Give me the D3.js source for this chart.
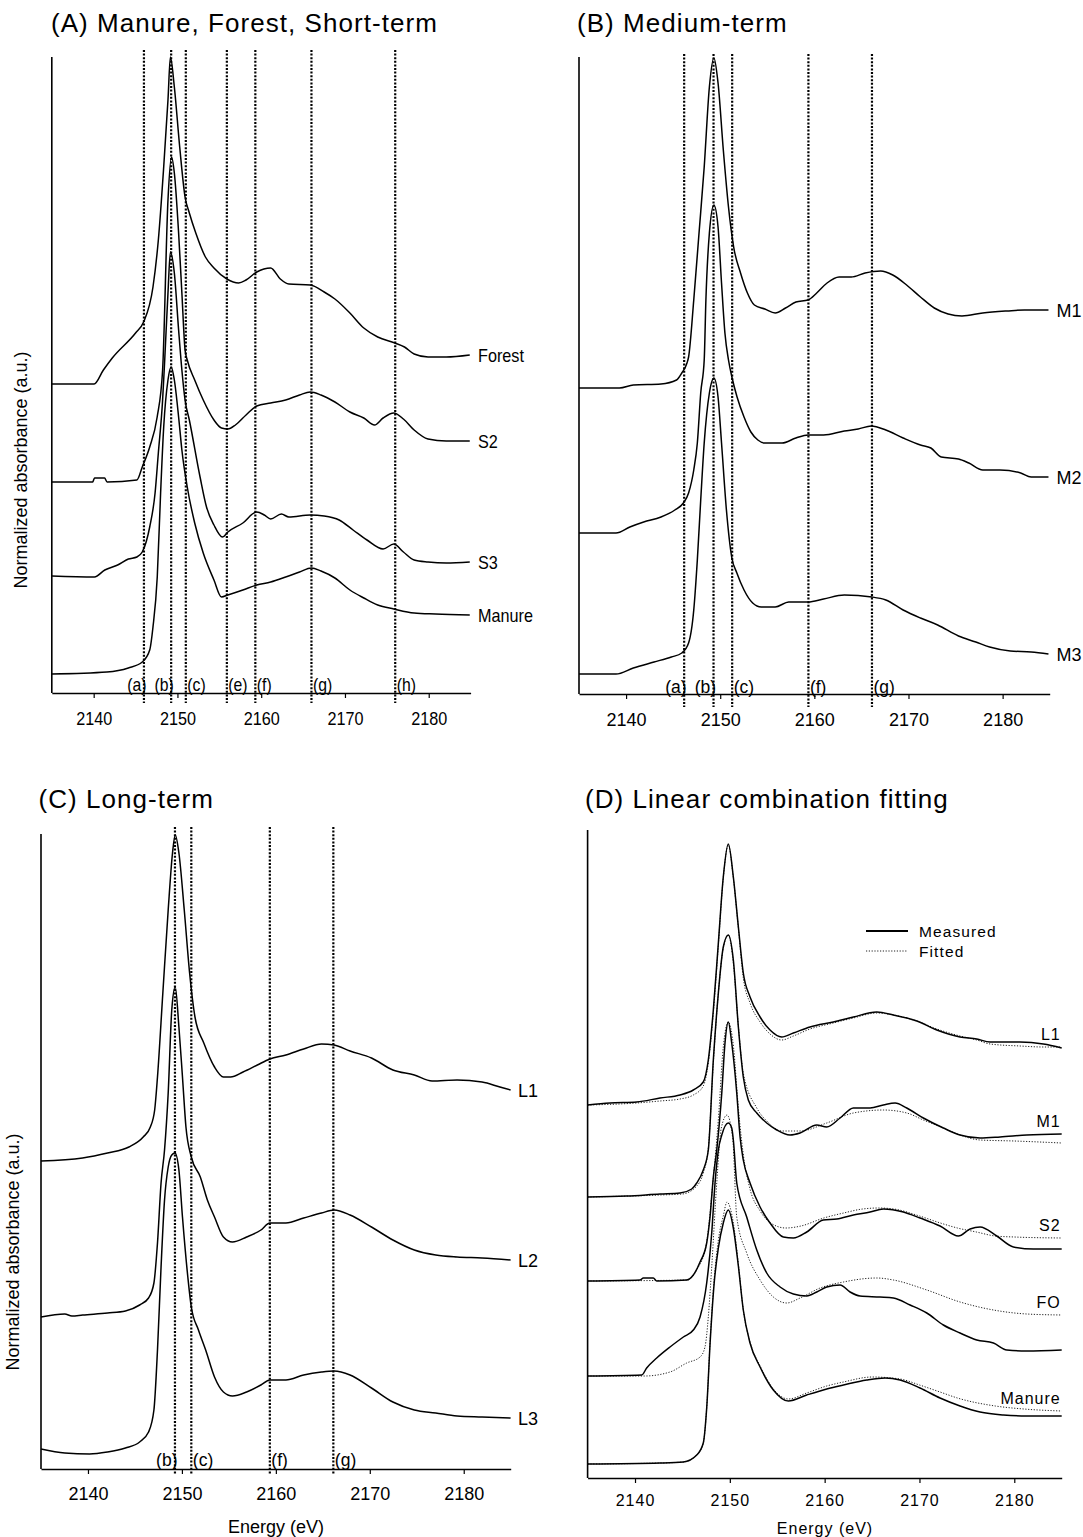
<!DOCTYPE html>
<html><head><meta charset="utf-8">
<script src="https://cdn.jsdelivr.net/npm/d3@7"></script>
<style>
body{margin:0;background:#fff}
svg{display:block}
text{font-family:"Liberation Sans",Arial,Helvetica,sans-serif;fill:#000}
</style>
</head><body>
<svg id="chart" width="1083" height="1537"></svg>
<script>
// ---------------- DATA (energy eV, normalized absorbance a.u. incl. stacking offset) ----------------
const tickValues = [2140, 2150, 2160, 2170, 2180];
const energyDomain = [2135, 2185];

// Panel A
const forestA = [[2135.0,3.09],[2140.05,3.09],[2141.16,3.23],[2142.22,3.35],[2145.0,3.60],[2145.96,3.71],[2147.08,4.06],[2147.72,4.53],[2148.36,5.26],[2148.87,5.93],[2149.16,6.36],[2149.63,6.06],[2150.27,5.46],[2150.91,4.96],[2151.42,4.80],[2152.19,4.60],[2153.34,4.36],[2154.36,4.25],[2155.9,4.14],[2157.3,4.10],[2158.19,4.13],[2159.47,4.21],[2161.13,4.25],[2162.28,4.14],[2163.3,4.09],[2165.86,4.08],[2167.52,4.01],[2168.8,3.94],[2170.59,3.80],[2172.25,3.65],[2173.91,3.56],[2175.96,3.50],[2177.11,3.46],[2178.26,3.39],[2179.92,3.36],[2182.09,3.36],[2184.9,3.38]];
const s2A = [[2135.0,2.11],[2139.88,2.11],[2140.1,2.15],[2141.3,2.15],[2141.6,2.11],[2145.16,2.13],[2145.8,2.26],[2146.69,2.46],[2147.58,2.76],[2148.23,3.23],[2148.87,4.93],[2149.29,5.36],[2149.63,5.20],[2150.14,4.60],[2150.53,4.00],[2150.91,3.43],[2151.17,3.33],[2152.06,3.13],[2153.08,2.93],[2154.36,2.73],[2155.26,2.65],[2156.02,2.64],[2156.92,2.68],[2158.19,2.78],[2159.47,2.87],[2161.13,2.90],[2162.92,2.93],[2164.58,2.98],[2165.86,3.01],[2167.14,2.98],[2168.8,2.91],[2170.59,2.81],[2172.25,2.75],[2173.53,2.68],[2174.55,2.75],[2175.83,2.80],[2176.98,2.74],[2178.26,2.63],[2179.92,2.54],[2182.09,2.52],[2184.9,2.52]];
const s3A = [[2135.0,1.17],[2140.09,1.16],[2141.33,1.23],[2142.86,1.28],[2144.14,1.34],[2145.16,1.36],[2145.8,1.41],[2146.69,1.66],[2147.33,2.00],[2147.72,2.40],[2148.23,2.93],[2148.48,3.33],[2148.87,4.00],[2149.16,4.41],[2149.63,4.20],[2150.14,3.63],[2150.53,3.23],[2150.91,2.93],[2151.42,2.73],[2152.7,2.16],[2153.47,1.86],[2154.36,1.68],[2155.38,1.56],[2156.02,1.61],[2157.81,1.70],[2159.47,1.81],[2160.37,1.78],[2161.13,1.74],[2162.41,1.79],[2163.3,1.76],[2165.86,1.78],[2167.52,1.77],[2169.31,1.73],[2170.97,1.63],[2172.63,1.53],[2174.55,1.44],[2175.83,1.49],[2176.98,1.41],[2178.26,1.33],[2179.92,1.31],[2182.09,1.30],[2184.9,1.31]];
const manureA = [[2135.0,0.19],[2141.58,0.21],[2144.14,0.25],[2145.8,0.31],[2146.69,0.43],[2147.08,0.66],[2147.59,1.16],[2147.99,2.00],[2148.36,2.66],[2148.87,3.13],[2149.25,3.26],[2149.63,3.13],[2150.14,2.76],[2150.53,2.43],[2151.17,2.06],[2152.06,1.70],[2153.08,1.40],[2154.36,1.13],[2155.26,0.96],[2156.02,0.98],[2157.81,1.03],[2159.47,1.08],[2161.13,1.11],[2162.92,1.16],[2164.58,1.21],[2165.99,1.25],[2167.14,1.22],[2168.8,1.15],[2170.59,1.03],[2172.25,0.95],[2173.91,0.88],[2175.83,0.84],[2178.26,0.80],[2180.81,0.79],[2184.9,0.78]];
const seriesNamesA = ["Forest", "S2", "S3", "Manure"];
const markersA = [2146.0, 2149.25, 2151.0, 2155.9, 2159.3, 2166.0, 2176.0];
const markerLabelsA = ["(a)", "(b)", "(c)", "(e)", "(f)", "(g)", "(h)"];

// Panel B
const m1B = [[2135.0,3.06],[2139.3,3.06],[2140.77,3.09],[2143.71,3.10],[2145.36,3.14],[2145.92,3.21],[2146.47,3.31],[2146.64,3.37],[2147.19,3.94],[2147.75,4.61],[2148.3,5.27],[2148.85,6.07],[2149.33,6.36],[2149.77,6.11],[2150.33,5.44],[2150.88,4.87],[2151.43,4.47],[2152.16,4.21],[2152.89,4.01],[2153.63,3.89],[2154.74,3.85],[2155.84,3.81],[2156.94,3.86],[2158.04,3.92],[2159.32,3.94],[2160.25,4.01],[2161.35,4.11],[2162.63,4.17],[2163.92,4.17],[2165.39,4.21],[2167.04,4.23],[2168.33,4.19],[2169.8,4.09],[2171.27,3.97],[2172.74,3.86],[2174.21,3.80],[2175.68,3.78],[2177.89,3.81],[2180.46,3.83],[2182.3,3.84],[2184.87,3.84]];
const m2B = [[2135.0,1.61],[2138.93,1.61],[2140.4,1.67],[2141.87,1.72],[2143.71,1.77],[2145.18,1.84],[2146.09,1.91],[2146.64,2.01],[2147.19,2.24],[2147.57,2.51],[2147.93,3.01],[2148.3,3.34],[2148.48,3.94],[2148.85,4.61],[2149.33,4.89],[2149.77,4.67],[2150.14,4.11],[2150.5,3.61],[2150.88,3.34],[2151.24,3.17],[2151.79,2.97],[2152.53,2.77],[2153.26,2.62],[2154.0,2.54],[2154.74,2.51],[2156.57,2.51],[2158.04,2.56],[2159.32,2.59],[2160.98,2.59],[2163.18,2.63],[2164.66,2.65],[2166.05,2.68],[2167.59,2.64],[2169.43,2.56],[2171.27,2.49],[2172.38,2.46],[2173.48,2.37],[2175.31,2.35],[2176.41,2.31],[2177.89,2.24],[2179.72,2.24],[2181.92,2.21],[2183.03,2.17],[2184.87,2.17]];
const m3B = [[2135.0,0.20],[2138.93,0.20],[2140.77,0.26],[2142.97,0.32],[2144.81,0.37],[2145.92,0.41],[2146.64,0.51],[2147.19,0.84],[2147.57,1.34],[2147.93,1.94],[2148.3,2.51],[2148.85,3.01],[2149.33,3.16],[2149.77,2.97],[2150.14,2.51],[2150.66,1.84],[2151.22,1.37],[2151.77,1.21],[2152.53,1.04],[2153.45,0.91],[2154.36,0.87],[2155.84,0.87],[2157.28,0.92],[2159.32,0.92],[2160.98,0.95],[2163.18,0.99],[2166.12,0.97],[2167.59,0.94],[2169.43,0.84],[2171.27,0.76],[2173.1,0.69],[2175.31,0.58],[2177.15,0.52],[2178.62,0.47],[2180.82,0.43],[2183.03,0.42],[2184.87,0.40]];
const seriesNamesB = ["M1", "M2", "M3"];
const markersB = [2146.17, 2149.29, 2151.27, 2159.37, 2166.12];
const markerLabelsB = ["(a)", "(b)", "(c)", "(f)", "(g)"];

// Panel C
const l1C = [[2135.0,3.08],[2139.43,3.11],[2142.08,3.16],[2144.36,3.22],[2145.88,3.32],[2146.64,3.42],[2147.1,3.59],[2147.4,3.92],[2147.97,4.76],[2148.54,5.59],[2149.0,6.16],[2149.29,6.34],[2149.68,6.16],[2150.25,5.59],[2150.82,4.96],[2151.39,4.52],[2152.33,4.26],[2153.47,4.02],[2154.42,3.92],[2155.18,3.92],[2156.51,3.97],[2158.03,4.04],[2159.36,4.10],[2161.07,4.14],[2162.96,4.20],[2164.86,4.25],[2166.2,4.24],[2167.9,4.18],[2170.18,4.11],[2172.46,3.99],[2174.74,3.94],[2176.63,3.88],[2179.29,3.89],[2181.95,3.87],[2183.85,3.82],[2184.99,3.79]];
const l2C = [[2135.0,1.52],[2137.53,1.55],[2138.29,1.53],[2139.43,1.54],[2142.08,1.56],[2143.99,1.58],[2145.5,1.64],[2146.45,1.71],[2147.02,1.86],[2147.4,2.26],[2147.78,2.86],[2148.15,3.19],[2148.54,3.76],[2148.92,4.59],[2149.29,4.82],[2149.68,4.42],[2150.06,3.92],[2150.43,3.42],[2151.0,3.12],[2151.96,2.92],[2152.71,2.69],[2153.47,2.52],[2154.42,2.32],[2155.38,2.27],[2156.89,2.32],[2158.41,2.39],[2159.36,2.46],[2161.07,2.46],[2162.96,2.51],[2164.86,2.56],[2166.2,2.59],[2167.9,2.54],[2170.18,2.42],[2172.46,2.29],[2174.74,2.19],[2177.02,2.14],[2179.29,2.12],[2181.95,2.11],[2184.99,2.09]];
const l3C = [[2135.0,0.20],[2137.53,0.16],[2140.18,0.15],[2142.08,0.17],[2143.99,0.21],[2145.5,0.27],[2146.45,0.37],[2147.02,0.59],[2147.4,1.19],[2147.78,2.02],[2148.15,2.69],[2148.54,3.02],[2148.92,3.14],[2149.26,3.16],[2149.68,2.99],[2150.06,2.52],[2150.63,1.92],[2151.0,1.62],[2151.76,1.39],[2152.53,1.19],[2153.47,0.92],[2154.42,0.77],[2155.38,0.73],[2156.89,0.77],[2158.41,0.84],[2159.36,0.89],[2161.07,0.89],[2162.96,0.94],[2164.86,0.97],[2166.2,0.98],[2167.9,0.94],[2170.18,0.81],[2172.46,0.67],[2174.74,0.59],[2177.02,0.56],[2179.29,0.53],[2181.95,0.52],[2184.99,0.51]];
const seriesNamesC = ["L1", "L2", "L3"];
const markersC = [2149.26, 2151.0, 2159.36, 2166.12];
const markerLabelsC = ["(b)", "(c)", "(f)", "(g)"];

// Panel D (measured and fitted)
const l1Measured = [[2135.0,3.73],[2137.36,3.75],[2140.18,3.76],[2142.64,3.80],[2144.75,3.83],[2146.15,3.88],[2147.2,3.96],[2147.73,4.18],[2148.26,4.68],[2148.79,5.35],[2149.31,6.01],[2149.84,6.34],[2150.37,6.01],[2150.9,5.51],[2151.42,5.05],[2152.13,4.81],[2153.19,4.61],[2154.24,4.48],[2155.47,4.41],[2156.7,4.45],[2158.46,4.51],[2160.92,4.56],[2163.03,4.61],[2165.5,4.66],[2167.25,4.63],[2169.72,4.57],[2171.83,4.48],[2174.28,4.41],[2176.04,4.39],[2177.45,4.36],[2180.61,4.36],[2183.07,4.34],[2185.0,4.30]];
const l1Fitted = [[2135.0,3.73],[2140.18,3.75],[2142.64,3.77],[2144.75,3.79],[2146.15,3.83],[2147.2,3.92],[2147.73,4.15],[2148.26,4.65],[2148.79,5.33],[2149.31,6.0],[2149.84,6.33],[2150.37,6.0],[2150.9,5.5],[2151.42,5.0],[2152.13,4.75],[2153.19,4.56],[2154.24,4.44],[2155.47,4.38],[2156.7,4.42],[2158.46,4.49],[2160.92,4.55],[2163.03,4.60],[2165.5,4.65],[2167.25,4.63],[2169.72,4.57],[2171.83,4.49],[2174.28,4.42],[2176.04,4.38],[2177.45,4.34],[2180.61,4.32],[2183.07,4.31],[2185.0,4.31]];
const m1Measured = [[2135.0,2.81],[2139.12,2.82],[2142.64,2.84],[2144.75,2.85],[2145.98,2.89],[2146.51,2.95],[2147.2,3.08],[2147.73,3.28],[2148.26,4.18],[2148.79,4.85],[2149.31,5.31],[2149.84,5.43],[2150.37,5.18],[2150.9,4.51],[2151.42,4.01],[2151.95,3.78],[2152.84,3.65],[2153.89,3.55],[2154.95,3.48],[2156.35,3.43],[2157.41,3.45],[2159.17,3.53],[2160.22,3.51],[2161.63,3.60],[2163.03,3.70],[2164.79,3.70],[2166.19,3.73],[2167.43,3.75],[2168.66,3.70],[2170.41,3.60],[2172.52,3.50],[2174.28,3.43],[2176.39,3.40],[2178.5,3.41],[2181.32,3.43],[2185.0,3.44]];
const m1Fitted = [[2135.0,2.81],[2142.64,2.83],[2145.0,2.84],[2146.51,2.92],[2147.2,3.05],[2147.73,3.30],[2148.26,4.15],[2148.79,4.85],[2149.31,5.30],[2149.84,5.43],[2150.37,5.15],[2150.9,4.52],[2151.42,4.05],[2152.84,3.70],[2153.89,3.57],[2155.5,3.47],[2157.41,3.47],[2160.22,3.55],[2163.03,3.65],[2166.19,3.68],[2168.66,3.65],[2170.41,3.58],[2172.52,3.50],[2174.28,3.43],[2176.39,3.38],[2180.0,3.37],[2185.0,3.35]];
const s2Measured = [[2135.0,1.97],[2140.53,1.98],[2140.88,2.00],[2141.93,2.00],[2142.29,1.97],[2145.45,1.98],[2146.15,2.03],[2146.86,2.16],[2147.56,2.35],[2147.91,2.61],[2148.26,3.01],[2148.62,3.28],[2149.15,3.85],[2149.49,4.35],[2149.84,4.56],[2150.2,4.35],[2150.73,3.85],[2151.08,3.41],[2151.42,3.18],[2152.13,2.95],[2153.19,2.71],[2154.24,2.55],[2155.64,2.41],[2156.7,2.40],[2158.11,2.46],[2159.86,2.58],[2161.28,2.59],[2163.03,2.63],[2164.79,2.66],[2166.19,2.69],[2168.3,2.66],[2170.06,2.60],[2172.17,2.52],[2174.1,2.42],[2175.34,2.49],[2176.39,2.51],[2178.15,2.42],[2179.91,2.31],[2182.02,2.29],[2185.0,2.29]];
const s2Fitted = [[2135.0,1.97],[2145.5,1.98],[2146.5,2.08],[2147.5,2.33],[2148.26,3.0],[2148.8,3.6],[2149.3,4.3],[2149.84,4.56],[2150.4,4.3],[2150.9,3.7],[2151.4,3.25],[2152.1,2.9],[2153.2,2.67],[2154.3,2.55],[2155.9,2.50],[2157.5,2.52],[2159.9,2.60],[2162.0,2.65],[2164.0,2.69],[2165.7,2.70],[2167.3,2.69],[2170.0,2.62],[2172.2,2.55],[2174.0,2.50],[2176.0,2.46],[2178.0,2.42],[2180.0,2.41],[2185.0,2.40]];
const foMeasured = [[2135.0,1.02],[2140.71,1.03],[2141.23,1.10],[2142.29,1.20],[2143.69,1.31],[2145.1,1.41],[2146.15,1.48],[2146.86,1.61],[2147.56,1.95],[2148.09,2.45],[2148.44,2.95],[2148.79,3.28],[2149.15,3.43],[2149.84,3.55],[2150.2,3.50],[2150.37,3.38],[2150.73,2.95],[2151.78,2.61],[2152.84,2.28],[2153.89,2.05],[2155.3,1.91],[2156.7,1.84],[2158.11,1.82],[2159.17,1.86],[2160.22,1.91],[2161.63,1.93],[2162.68,1.86],[2163.73,1.82],[2165.84,1.81],[2167.25,1.80],[2169.01,1.73],[2170.77,1.65],[2172.52,1.53],[2174.28,1.45],[2176.04,1.38],[2177.8,1.35],[2179.21,1.28],[2181.32,1.27],[2185.0,1.28]];
const foFitted = [[2135.0,1.02],[2141.0,1.02],[2143.69,1.06],[2145.45,1.15],[2146.86,1.21],[2147.38,1.31],[2147.73,1.61],[2148.09,2.11],[2148.62,2.95],[2149.1,3.5],[2149.7,3.63],[2150.3,3.4],[2150.73,2.61],[2151.78,2.25],[2153.19,1.98],[2154.59,1.81],[2156.0,1.75],[2157.41,1.80],[2159.52,1.90],[2161.98,1.96],[2165.5,2.00],[2167.25,1.98],[2170.77,1.88],[2174.28,1.76],[2177.8,1.68],[2181.32,1.64],[2185.0,1.63]];
const manureMeasured = [[2135.0,0.14],[2142.64,0.15],[2145.1,0.16],[2146.51,0.23],[2147.2,0.35],[2147.56,0.70],[2147.95,1.40],[2148.35,1.95],[2148.79,2.30],[2149.31,2.55],[2149.84,2.68],[2150.37,2.50],[2150.9,2.12],[2151.42,1.68],[2152.13,1.35],[2153.19,1.11],[2154.59,0.88],[2156.17,0.77],[2158.11,0.83],[2160.22,0.89],[2161.98,0.93],[2164.45,0.98],[2166.38,1.00],[2167.96,0.98],[2170.06,0.90],[2172.17,0.80],[2174.28,0.72],[2176.39,0.66],[2178.85,0.63],[2181.32,0.62],[2185.0,0.62]];
const manureFitted = [[2135.0,0.14],[2142.64,0.15],[2145.1,0.16],[2146.51,0.23],[2147.2,0.35],[2147.56,0.70],[2147.95,1.42],[2148.35,1.99],[2148.79,2.38],[2149.31,2.62],[2149.7,2.76],[2150.37,2.55],[2150.9,2.14],[2151.42,1.68],[2152.13,1.36],[2153.19,1.12],[2154.59,0.89],[2156.17,0.79],[2158.11,0.85],[2160.22,0.92],[2161.98,0.96],[2165.0,1.01],[2167.96,0.99],[2170.0,0.93],[2172.17,0.86],[2174.0,0.80],[2178.0,0.72],[2181.0,0.69],[2185.0,0.67]];
const seriesNamesD = ["L1", "M1", "S2", "FO", "Manure"];
const legendLabels = ["Measured", "Fitted"];

// ---------------- DRAWING ----------------
const svg = d3.select("#chart");

function sText(g, x, y, str, size, sx, anchor) {
  return g.append("text")
    .attr("transform", `translate(${x},${y}) scale(${sx},1)`)
    .attr("font-size", size)
    .attr("text-anchor", anchor || "start")
    .text(str);
}

function drawPanel(cfg) {
  const g = svg.append("g");
  const x = d3.scaleLinear().domain(energyDomain).range([cfg.left, cfg.right]);
  const y = d3.scaleLinear().domain([0, (cfg.bottom - cfg.top) / 100]).range([cfg.bottom, cfg.top]);

  // title
  g.append("text").attr("x", cfg.titleX).attr("y", cfg.titleY).attr("font-size", 26)
    .attr("letter-spacing", 1.05).text(cfg.title);

  // marker dotted lines
  if (cfg.markers) {
    cfg.markers.forEach((m, i) => {
      g.append("line").attr("x1", x(m)).attr("x2", x(m))
        .attr("y1", cfg.mTop).attr("y2", cfg.mBottom)
        .attr("stroke", "#000").attr("stroke-width", 2.2).attr("stroke-dasharray", "2,1.6");
      const lab = cfg.markerLabels[i];
      const endAnch = (lab === "(a)" || lab === "(b)");
      sText(g, x(m) + (endAnch ? 2.5 : 1.5), cfg.mLabelY, lab, 17.5, cfg.sx, endAnch ? "end" : "start");
    });
  }

  // axes
  const ax = d3.axisBottom(x).tickValues(tickValues).tickFormat(d3.format("d"))
    .tickSize(5).tickSizeOuter(0).tickPadding(cfg.tickPad);
  const axG = g.append("g").attr("transform", `translate(0,${cfg.bottom})`).call(ax);
  axG.select(".domain").attr("stroke-width", 1.6);
  axG.selectAll(".tick line").attr("stroke-width", 1.2);
  axG.selectAll(".tick text").attr("font-size", cfg.tfs)
    .attr("font-family", '"Liberation Sans",Arial,sans-serif')
    .attr("letter-spacing", cfg.ls || 0)
    .attr("transform", `scale(${cfg.sx},1)`);
  g.append("line").attr("x1", cfg.left).attr("x2", cfg.left).attr("y1", cfg.top).attr("y2", cfg.bottom)
    .attr("stroke", "#000").attr("stroke-width", 1.6);

  const line = d3.line().x(d => x(d[0])).y(d => y(d[1])).curve(d3.curveMonotoneX);

  if (cfg.fitted) {
    cfg.fitted.forEach(s => {
      g.append("path").attr("d", line(s)).attr("fill", "none").attr("stroke", "#222")
        .attr("stroke-width", 1).attr("stroke-dasharray", "1.2,1.6");
    });
  }
  cfg.series.forEach(s => {
    g.append("path").attr("d", line(s)).attr("fill", "none").attr("stroke", "#000")
      .attr("stroke-width", 1.5).attr("stroke-linejoin", "round");
  });

  // series labels
  cfg.names.forEach((n, i) => {
    if (cfg.fitted) {
      const a = cfg.series[i], b = cfg.fitted[i];
      const yy = Math.min(y(a[a.length - 1][1]), y(b[b.length - 1][1])) - 13;
      g.append("text").attr("x", cfg.right - 1).attr("y", yy + 6).attr("font-size", 16)
        .attr("letter-spacing", cfg.ls).attr("text-anchor", "end").text(n);
    } else {
      const s = cfg.series[i];
      sText(g, cfg.labelX, y(s[s.length - 1][1]) + 6.5, n, 18, cfg.sx, "start");
    }
  });

  // y label
  if (cfg.yLabel) {
    g.append("text").attr("transform", `translate(${cfg.yLabelX},${cfg.yLabelY}) rotate(-90)`)
      .attr("text-anchor", "middle").attr("font-size", 18).attr("dy", "0.35em").text("Normalized absorbance (a.u.)");
  }
  if (cfg.xLabel) {
    g.append("text").attr("x", cfg.xLabelX).attr("y", cfg.xLabelY).attr("text-anchor", "middle")
      .attr("font-size", cfg.xfs).attr("letter-spacing", cfg.ls || 0).text("Energy (eV)");
  }
  return {g, x, y};
}

drawPanel({
  left: 51.8, right: 470.6, top: 57, bottom: 693,
  title: "(A) Manure, Forest, Short-term", titleX: 51, titleY: 32,
  markers: markersA, markerLabels: markerLabelsA, mTop: 50, mBottom: 703, mLabelY: 691,
  tfs: 18, sx: 0.9, tickPad: 14,
  series: [forestA, s2A, s3A, manureA], names: seriesNamesA, labelX: 478,
  yLabel: true, yLabelX: 21, yLabelY: 470
});

drawPanel({
  left: 579, right: 1049.7, top: 57, bottom: 694,
  title: "(B) Medium-term", titleX: 577, titleY: 32,
  markers: markersB, markerLabels: markerLabelsB, mTop: 54, mBottom: 707, mLabelY: 693,
  tfs: 18, sx: 1, tickPad: 14,
  series: [m1B, m2B, m3B], names: seriesNamesB, labelX: 1056.5
});

drawPanel({
  left: 41, right: 510.7, top: 834, bottom: 1469,
  title: "(C) Long-term", titleX: 38.5, titleY: 808,
  markers: markersC, markerLabels: markerLabelsC, mTop: 827, mBottom: 1475, mLabelY: 1466,
  tfs: 18, sx: 1, tickPad: 13,
  series: [l1C, l2C, l3C], names: seriesNamesC, labelX: 518,
  yLabel: true, yLabelX: 12.5, yLabelY: 1252,
  xLabel: true, xLabelX: 276, xLabelY: 1533, xfs: 18
});

const pD = drawPanel({
  left: 587.6, right: 1061.7, top: 830, bottom: 1478,
  title: "(D) Linear combination fitting", titleX: 585, titleY: 808,
  tfs: 16, sx: 1, ls: 1, tickPad: 12,
  series: [l1Measured, m1Measured, s2Measured, foMeasured, manureMeasured],
  fitted: [l1Fitted, m1Fitted, s2Fitted, foFitted, manureFitted],
  names: seriesNamesD,
  xLabel: true, xLabelX: 825, xLabelY: 1534, xfs: 16
});

// legend for D
const lg = pD.g.append("g");
legendLabels.forEach((t, i) => {
  const yy = 931 + i * 20;
  lg.append("line").attr("x1", 866).attr("x2", 908).attr("y1", yy).attr("y2", yy)
    .attr("stroke", i === 0 ? "#000" : "#222").attr("stroke-width", i === 0 ? 1.8 : 1)
    .attr("stroke-dasharray", i === 0 ? null : "1.2,1.6");
  lg.append("text").attr("x", 919).attr("y", yy + 5.5).attr("font-size", 15.5).attr("letter-spacing", 1.1).text(t);
});
</script>
</body></html>
